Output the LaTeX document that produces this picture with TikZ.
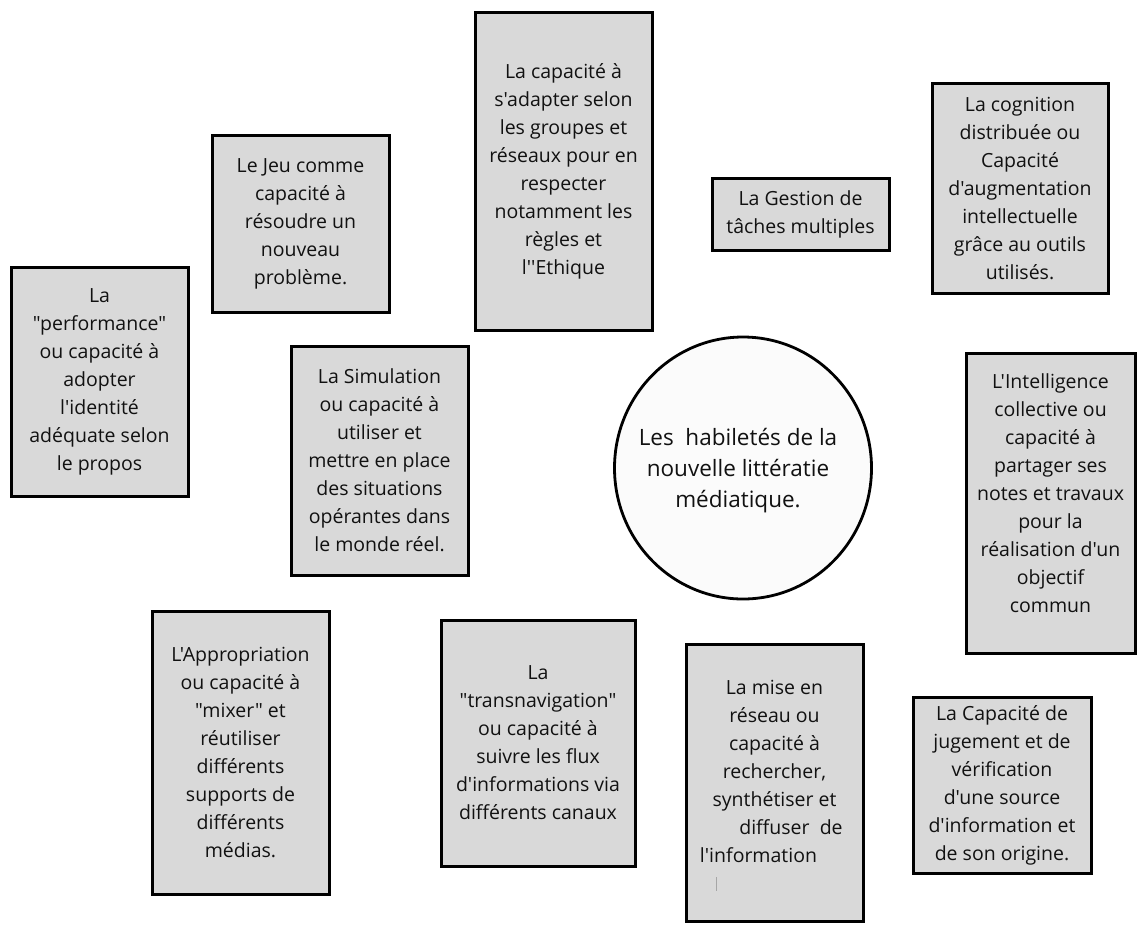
\documentclass[tikz,border=0pt]{standalone}
\usepackage{fontspec}
\setmainfont{Open Sans}[Ligatures=TeXOff]
\usetikzlibrary{shapes.geometric}
\definecolor{boxgray}{HTML}{D9D9D9}
\definecolor{inkgray}{HTML}{111111}
\definecolor{circfill}{HTML}{FBFBFB}
\tikzset{
  skillbox/.style={draw=black, line width=3pt, fill=boxgray, align=center,
    inner sep=0pt, text=inkgray, font=\fontsize{19.5}{28}\selectfont},
  skilltext/.style={text=inkgray, align=center, inner sep=0pt, font=\fontsize{19.5}{28}\selectfont},
  centerell/.style={draw=black, line width=2.8pt, fill=circfill, ellipse,
    inner sep=0pt, align=center, text=inkgray}
}
\begin{document}
\begin{tikzpicture}[x=1pt,y=-1pt]
\useasboundingbox (0,0) rectangle (1137,924);
\fill[white] (0,0) rectangle (1137,924);

\node[centerell, minimum width=257pt, minimum height=262pt] (centre) at (743,468) {};
\node[text=inkgray, align=center, font=\fontsize{22.5}{31}\selectfont] (centretxt) at (738,471)
  {Les\ \ habiletés de la\\nouvelle littératie\\médiatique.};

\node[skillbox, minimum width=177pt, minimum height=177pt] (jeu) at (300.5,223.5)
  {Le Jeu comme\\capacité à\\résoudre un\\nouveau\\problème.};
\node[skillbox, minimum width=177pt, minimum height=229pt] (perf) at (99.5,381.5)
  {La\\"performance"\\ou capacité à\\adopter\\l'identité\\adéquate selon\\le propos};
\node[skillbox, minimum width=177pt, minimum height=229pt] (simu) at (379.5,460.5)
  {La Simulation\\ou capacité à\\utiliser et\\mettre en place\\des situations\\opérantes dans\\le monde réel.};
\node[skillbox, minimum width=177pt, minimum height=318pt] (adapt) at (563.5,171)
  {La capacité à\\s'adapter selon\\les groupes et\\réseaux pour en\\respecter\\notamment les\\règles et\\l''Ethique};
\node[skillbox, minimum width=177pt, minimum height=72pt] (gestion) at (800.5,214)
  {La Gestion de\\tâches multiples};
\node[skillbox, minimum width=176pt, minimum height=210pt] (cogn) at (1020,188)
  {La cognition\\distribuée ou\\Capacité\\d'augmentation\\intellectuelle\\grâce au outils\\utilisés.};
\node[skillbox, minimum width=169pt, minimum height=300pt] (intel) at (1050.5,503) {};
\node[skilltext] (inteltxt) at (1050.5,493)
  {L'Intelligence\\collective ou\\capacité à\\partager ses\\notes et travaux\\pour la\\réalisation d'un\\objectif\\commun};
\node[skillbox, minimum width=177pt, minimum height=283pt] (approp) at (240.5,752.5)
  {L'Appropriation\\ou capacité à\\"mixer" et\\réutiliser\\différents\\supports de\\différents\\médias.};
\node[skillbox, minimum width=194pt, minimum height=246pt] (trans) at (538,743)
  {La\\"transnavigation"\\ou capacité à\\suivre les flux\\d'informations via\\différents canaux};
\node[skillbox, minimum width=177pt, minimum height=277pt] (mise) at (774.5,782.5) {};
\node[skilltext] (misetxt) at (774.5,771.5)
  {La mise en\\réseau ou\\capacité à\\rechercher,\\synthétiser et\\\hspace*{33pt}diffuser\ \ de\\l'information\hspace*{32pt}};
\coordinate (curtop) at (716,877);
\coordinate (curbot) at (716,891);
\draw[gray!70, line width=0.8pt] (curtop) -- (curbot);
\node[skillbox, minimum width=178pt, minimum height=176pt] (jug) at (1002,785)
  {La Capacité de\\jugement et de\\vérification\\d'une source\\d'information et\\de son origine.};
\end{tikzpicture}
\end{document}
